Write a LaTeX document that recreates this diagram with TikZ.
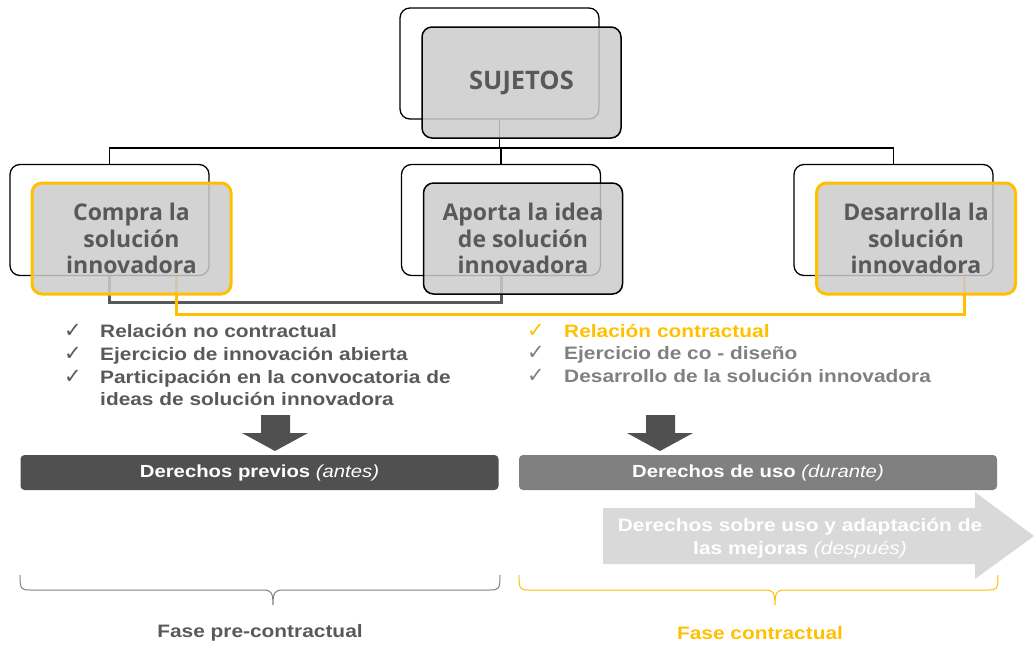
\documentclass[tikz,border=0pt]{standalone}
\usepackage{fontspec}
\setmainfont{Liberation Sans}
\newfontfamily\boxfont{Open Sans}
\newfontfamily\arialx[FakeStretch=1.16]{Liberation Sans}
\newfontfamily\symfont{DejaVu Sans}
\definecolor{ylw}{HTML}{FFC000}
\definecolor{txtgray}{HTML}{595959}
\definecolor{boxgray}{HTML}{CBCBCB}
\definecolor{darkbar}{HTML}{505050}
\definecolor{midbar}{HTML}{808080}
\definecolor{lightarr}{HTML}{D9D9D9}
\tikzset{
  backbox/.style={draw=black, line width=1.3pt, rounded corners=10pt, minimum width=199pt, minimum height=111pt, inner sep=0pt},
  frontbox/.style={draw=black, line width=1.5pt, rounded corners=10pt, fill=boxgray, fill opacity=0.85, text opacity=1,
     minimum width=199pt, minimum height=111pt, inner sep=0pt, text=txtgray,
     font=\boxfont\bfseries\fontsize{23}{26.5}\selectfont, align=center},
  yellowbox/.style={frontbox, draw=ylw, line width=3pt},
  treeline/.style={draw=black, line width=1.2pt},
  darklink/.style={draw=txtgray, line width=3pt},
  ylwlink/.style={draw=ylw, line width=3pt},
  bullettext/.style={anchor=base west, inner sep=0pt, font=\arialx\bfseries\fontsize{18}{22}\selectfont},
  checkmark/.style={anchor=base, inner sep=0pt, font=\symfont\fontsize{21}{24}\selectfont},
  bar/.style={rounded corners=4pt, minimum width=478pt, minimum height=35pt, inner sep=0pt, text=white,
     font=\arialx\bfseries\fontsize{17.5}{20}\selectfont},
  phase/.style={inner sep=0pt, font=\arialx\bfseries\fontsize{18}{22}\selectfont},
  bracestyle/.style={line width=1pt},
}
\begin{document}
\begin{tikzpicture}[x=1pt,y=-1pt]
\useasboundingbox (0,0) rectangle (1036,646);

% back boxes
\node[backbox] (sb) at (499.5,63.5) {};
\node[backbox] (lb) at (109.5,220) {};
\node[backbox] (mb) at (501,220) {};
\node[backbox] (rb) at (893.5,220) {};

% tree connectors
\coordinate (hub) at (500,148);
\draw[treeline] (sb.south) -- (sb.south |- hub);
\draw[treeline] (lb.north) |- (hub) -| (rb.north);
\draw[treeline] (mb.north) -- (mb.north |- hub);

% lower connectors
\draw[darklink] (lb.south) -- ++(0,26) -| (mb.south);
\draw[ylwlink] ([xshift=66.5pt]lb.south) -- ++(0,38) -| ([xshift=70.5pt]rb.south);

% front boxes
\node[frontbox, font=\boxfont\bfseries\fontsize{25.5}{30}\selectfont] (sf) at (521.5,82.5) {SUJETOS};
\node[yellowbox] (lf) at (131.5,238.5) {Compra la\\solución\\innovadora};
\node[frontbox] (mf) at (523,238.5) {Aporta la idea\\de solución\\innovadora};
\node[yellowbox] (rf) at (916,238.5) {Desarrolla la\\solución\\innovadora};

% left bullets
\node[checkmark, text=txtgray] (c1) at (73,337) {✓};
\node[checkmark, text=txtgray] (c2) at (73,360) {✓};
\node[checkmark, text=txtgray] (c3) at (73,383) {✓};
\node[bullettext, text=txtgray] (l1) at (100,337) {Relación no contractual};
\node[bullettext, text=txtgray] (l2) at (100,360) {Ejercicio de innovación abierta};
\node[bullettext, text=txtgray] (l3) at (100,383) {Participación en la convocatoria de};
\node[bullettext, text=txtgray] (l4) at (100,405) {ideas de solución innovadora};

% right bullets
\node[checkmark, text=ylw] (d1) at (536,337) {✓};
\node[checkmark, text=midbar] (d2) at (536,359) {✓};
\node[checkmark, text=midbar] (d3) at (536,382) {✓};
\node[bullettext, text=ylw] (r1) at (564,337) {Relación contractual};
\node[bullettext, text=midbar] (r2) at (564,359) {Ejercicio de co - diseño};
\node[bullettext, text=midbar] (r3) at (564,382) {Desarrollo de la solución innovadora};

% dark down arrows
\fill[darkbar] (261,415) -- (290,415) -- (290,433) -- (308,433) -- (275,451) -- (242,433) -- (261,433) -- cycle;
\fill[darkbar] (646,415) -- (675,415) -- (675,433) -- (693,433) -- (660,451) -- (627,433) -- (646,433) -- cycle;

% bars
\node[bar, fill=darkbar] (bar1) at (259.5,472.5) {Derechos previos {\mdseries\itshape (antes)}};
\node[bar, fill=midbar] (bar2) at (758,472.5) {Derechos de uso {\mdseries\itshape (durante)}};

% light arrow
\fill[lightarr] (603,508) -- (975,508) -- (975,492) -- (1034,536) -- (975,579) -- (975,564) -- (603,564) -- cycle;
\node[inner sep=0pt, text=white, align=center, font=\arialx\bfseries\fontsize{18}{23}\selectfont] (after) at (800,538)
  {Derechos sobre uso y adaptación de\\las mejoras {\mdseries\itshape (después)}};

% braces
\draw[bracestyle, draw=midbar] (20,575) .. controls (20,589) and (21,590) .. (30,590) -- (263,590)
   .. controls (271,590) and (273,592) .. (273,605)
   .. controls (273,592) and (275,590) .. (283,590) -- (490,590)
   .. controls (499,590) and (500,589) .. (500,575);
\draw[bracestyle, draw=ylw] (519,575) .. controls (519,589) and (520,590) .. (529,590) -- (765,590)
   .. controls (773,590) and (775,592) .. (775,605)
   .. controls (775,592) and (777,590) .. (785,590) -- (988,590)
   .. controls (997,590) and (998,589) .. (998,575);

% phase labels
\node[phase, text=txtgray] (p1) at (260,633) {Fase pre-contractual};
\node[phase, text=ylw] (p2) at (760,633) {Fase contractual};
\end{tikzpicture}
\end{document}
